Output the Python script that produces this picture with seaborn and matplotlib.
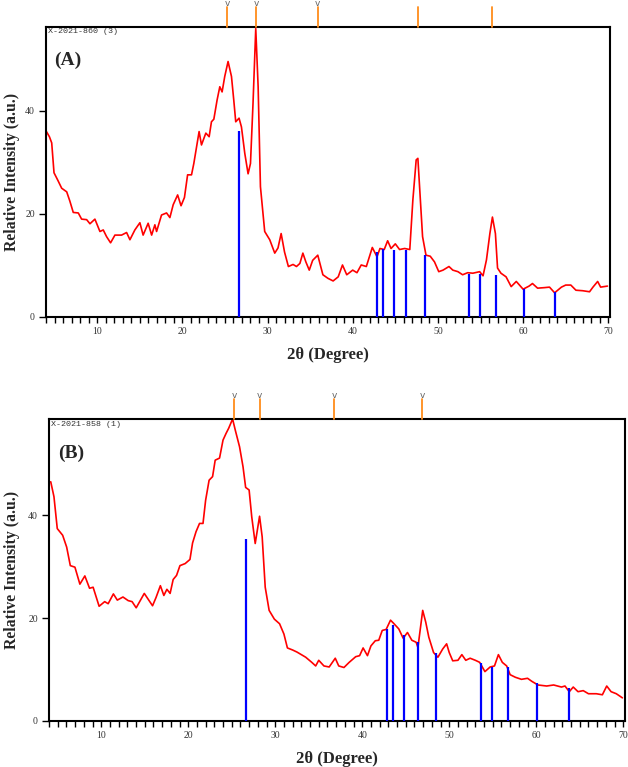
import numpy as np
import pandas as pd
import matplotlib
matplotlib.use("Agg")
import matplotlib.pyplot as plt
import matplotlib.transforms as mtransforms
from matplotlib.ticker import MultipleLocator
import seaborn as sns

# ---------------- data ----------------
theta_a = [4.05, 4.4, 4.67, 4.94, 5.4, 5.84, 6.43, 6.8, 7.2, 7.79, 8.18, 8.77, 9.16, 9.74,
           10.33, 10.72, 11.11, 11.58, 12.09, 12.87, 13.46, 13.85, 14.43, 15.02, 15.4, 15.99,
           16.4, 16.78, 16.98, 17.56, 18.15, 18.54, 18.93, 19.45, 19.85, 20.25, 20.62, 21.08,
           21.35, 21.67, 21.97, 22.25, 22.76, 23.15, 23.42, 23.7, 24.08, 24.4, 24.67, 24.98,
           25.37, 25.77, 26.04, 26.27, 26.66, 26.94, 27.33, 27.72, 28.0, 28.3, 28.62, 28.9,
           29.17, 29.67, 30.26, 30.85, 31.23, 31.6, 32.0, 32.45, 33.0, 33.4, 33.8, 34.15,
           34.5, 34.9, 35.3, 35.9, 36.5, 37.1, 37.7, 38.3, 38.8, 39.3, 40.0, 40.5, 41.0,
           41.6, 42.3, 42.85, 43.2, 43.7, 44.1, 44.5, 45.0, 45.5, 46.1, 46.7, 47.06, 47.45,
           47.65, 47.9, 48.2, 48.6, 49.1, 49.6, 50.1, 50.6, 51.3, 51.75, 52.35, 52.9, 53.5,
           54.1, 54.9, 55.3, 55.7, 56.1, 56.4, 56.75, 57.0, 57.4, 58.0, 58.6, 59.2, 60.0,
           60.7, 61.1, 61.7, 62.5, 63.1, 63.7, 64.5, 65.0, 65.6, 66.2, 67.0, 67.8, 68.2,
           68.75, 69.1, 69.9]
inten_a = [36.0, 35.0, 33.8, 28.0, 26.5, 25.0, 24.3, 22.5, 20.3, 20.2, 19.0, 18.9, 18.1, 19.0,
           16.6, 16.9, 15.6, 14.4, 15.9, 15.9, 16.4, 15.0, 16.9, 18.3, 15.9, 18.2,
           15.9, 17.9, 16.6, 19.8, 20.2, 19.3, 21.8, 23.7, 21.6, 23.2, 27.6, 27.6,
           29.8, 33.0, 36.0, 33.4, 35.7, 35.0, 37.9, 38.4, 42.1, 44.7, 43.7, 46.7,
           49.6, 46.7, 42.1, 37.9, 38.6, 36.9, 31.8, 27.8, 29.8, 41.5, 56.0, 44.7,
           25.3, 16.6, 15.0, 12.4, 13.4, 16.2, 12.6, 9.8, 10.2, 9.8, 10.4, 12.4,
           10.7, 9.1, 11.0, 12.0, 8.2, 7.5, 7.0, 7.8, 10.1, 8.2, 9.1, 8.6, 10.1,
           9.8, 13.5, 11.7, 13.3, 13.1, 14.8, 13.3, 14.2, 13.1, 13.3, 13.1, 22.7, 30.5,
           30.8, 24.0, 15.6, 12.0, 11.8, 10.7, 8.8, 9.1, 9.8, 9.1, 8.8, 8.2, 8.6,
           8.5, 8.8, 8.0, 11.1, 16.2, 19.4, 16.2, 9.5, 8.5, 7.8, 5.9, 6.9, 5.4,
           6.0, 6.5, 5.6, 5.7, 5.8, 4.7, 5.8, 6.2, 6.2, 5.2, 5.1, 4.9, 5.8,
           6.9, 5.8, 6.0]

theta_b = [4.2, 4.57, 4.95, 5.57, 6.03, 6.45, 6.98, 7.55, 8.12, 8.66, 9.07, 9.76, 10.4, 10.8,
           11.4, 11.85, 12.5, 13.1, 13.55, 14.02, 14.95, 15.9, 16.3, 16.8, 17.2, 17.55, 17.92,
           18.27, 18.66, 19.05, 19.65, 20.2, 20.5, 20.9, 21.3, 21.7, 22.0, 22.4, 22.8, 23.1,
           23.6, 24.0, 24.35, 24.65, 25.1, 25.4, 25.9, 26.3, 26.6, 27.0, 27.3, 27.7, 28.0,
           28.2, 28.5, 28.85, 29.3, 29.9, 30.5, 31.0, 31.4, 32.0, 32.5, 33.5, 34.2, 34.65,
           35.0, 35.6, 36.2, 36.9, 37.3, 37.9, 38.5, 39.25, 39.7, 40.1, 40.6, 41.0, 41.5,
           41.9, 42.3, 42.75, 43.25, 43.6, 44.2, 44.7, 45.2, 45.7, 46.2, 46.4, 46.7, 46.95,
           47.3, 47.65, 48.2, 48.7, 49.25, 49.7, 50.0, 50.4, 51.0, 51.45, 51.9, 52.4, 53.0,
           53.5, 54.1, 54.7, 55.2, 55.65, 56.1, 56.6, 57.0, 57.6, 58.3, 59.0, 59.5, 60.2,
           61.2, 62.0, 62.9, 63.3, 63.8, 64.25, 64.8, 65.4, 66.0, 66.9, 67.6, 68.1, 68.6,
           69.2, 69.9]
inten_b = [46.5, 43.6, 37.4, 36.1, 33.8, 30.2, 29.9, 26.6, 28.2, 25.8, 26.0, 22.3, 23.2, 22.8,
           24.7, 23.5, 24.1, 23.4, 23.2, 22.0, 24.8, 22.4, 24.0, 26.3, 24.4, 25.6, 24.8,
           27.5, 28.3, 30.2, 30.6, 31.4, 34.6, 36.8, 38.4, 38.4, 42.9, 46.8, 47.5, 50.7,
           51.1, 54.6, 55.9, 56.9, 58.7, 56.6, 53.3, 49.4, 45.4, 44.9, 39.7, 34.5, 37.7,
           39.8, 35.8, 26.0, 21.5, 19.8, 18.9, 16.9, 14.2, 13.8, 13.4, 12.4, 11.4, 10.7,
           11.8, 10.7, 10.5, 12.2, 10.7, 10.4, 11.4, 12.5, 12.7, 14.2, 12.7, 14.6, 15.6,
           15.7, 17.6, 17.8, 19.6, 19.0, 17.9, 16.1, 17.2, 15.7, 15.3, 14.3, 18.2, 21.5,
           19.2, 16.3, 13.3, 12.4, 14.0, 15.0, 13.3, 11.7, 11.8, 12.9, 11.8, 12.2, 11.8,
           11.4, 9.6, 10.5, 10.7, 12.9, 11.4, 10.7, 9.0, 8.5, 8.1, 8.3, 7.7, 7.0,
           6.8, 7.0, 6.6, 6.8, 5.7, 6.6, 5.7, 5.9, 5.3, 5.3, 5.1, 6.8, 5.7,
           5.3, 4.5]

# reference stick pattern (blue)
stick_pos_a = [26.6, 42.8, 43.5, 44.8, 46.3, 48.5, 53.7, 54.9, 56.8, 60.1, 63.8]
stick_h_a = [36.1, 12.7, 13.2, 13.0, 13.0, 12.0, 8.3, 8.3, 8.2, 5.5, 4.9]
stick_pos_b = [26.6, 42.8, 43.5, 44.8, 46.4, 48.5, 53.7, 54.9, 56.8, 60.1, 63.8]
stick_h_b = [35.3, 17.8, 18.7, 16.7, 15.4, 13.2, 11.2, 10.4, 10.4, 7.3, 6.4]

# peak markers above the frame (orange); flag = has "v" label
mark_pos_a = [25.3, 28.7, 35.9, 47.7, 56.4]
mark_v_a = [True, True, True, False, False]
mark_pos_b = [25.3, 28.2, 36.8, 46.9]
mark_v_b = [True, True, True, True]

panel_letters = ["(A)", "(B)"]
sample_ids = ["X-2021-860 (3)", "X-2021-858 (1)"]
ytop = [56.3, 58.7]
xlabel = "2θ (Degree)"
ylabel = "Relative Intensity (a.u.)"

# ---------------- figure ----------------
sns.set_style("white")
plt.rcParams['font.family'] = ['Liberation Serif', 'DejaVu Serif']

fig = plt.figure(figsize=(6.28, 7.67), dpi=100)
ax_a = fig.add_axes([46/628, 1-317/767, (610-46)/628, (317-27)/767])
ax_b = fig.add_axes([49/628, 1-721/767, (625-49)/628, (721-419)/767])

panels = [
    (ax_a, theta_a, inten_a, stick_pos_a, stick_h_a, mark_pos_a, mark_v_a, 20/290, (12-46)/564),
    (ax_b, theta_b, inten_b, stick_pos_b, stick_h_b, mark_pos_b, mark_v_b, 20/302, (12-49)/576),
]

for i, (ax, tx, ty, sp, sh, mp, mv, mlen, ylx) in enumerate(panels):
    df = pd.DataFrame({"theta": tx, "I": ty})
    sns.lineplot(data=df, x="theta", y="I", ax=ax, color="#ff0000", lw=1.2,
                 estimator=None, sort=False)
    ax.vlines(sp, 0, sh, color="#0000ff", lw=1.6, zorder=3)

    trans = mtransforms.blended_transform_factory(ax.transData, ax.transAxes)
    for p, hv in zip(mp, mv):
        ax.plot([p, p], [1.0, 1.0 + mlen], color="#ff8c1a", lw=1.3,
                transform=trans, clip_on=False, zorder=5)
        if hv:
            ax.text(p, 1.0 + mlen + 0.012, "v", transform=trans, ha="center", va="center",
                    fontsize=6.5, color="#666666", family="DejaVu Sans")

    ax.set_xlim(4, 70.2)
    ax.set_ylim(0, ytop[i])
    ax.xaxis.set_major_locator(MultipleLocator(10))
    ax.xaxis.set_minor_locator(MultipleLocator(1))
    ax.set_yticks([0, 20, 40])
    ax.tick_params(axis="x", which="both", direction="out", length=4, width=1,
                   labelsize=7, colors="black", labelcolor="#333333", pad=3, bottom=True)
    ax.tick_params(axis="y", which="both", direction="out", length=5, width=1,
                   labelsize=7, colors="black", labelcolor="#333333", pad=3, left=True)
    for s in ax.spines.values():
        s.set_visible(True)
        s.set_color("black")
        s.set_linewidth(1.5)

    ax.set_xlabel(xlabel, fontsize=12, fontweight="bold", labelpad=8)
    ax.set_ylabel(ylabel, fontsize=11.3, fontweight="bold")
    ax.yaxis.set_label_coords(ylx, 0.5)
    ax.yaxis.label.set_va("center")

    ax.text(0.004, 0.995, sample_ids[i], transform=ax.transAxes, ha="left", va="top",
            fontsize=6, color="#333333", family="Liberation Mono")
    ax.text(0.015, 0.885, panel_letters[i], transform=ax.transAxes, ha="left", va="center",
            fontsize=14, fontweight="bold")

fig.savefig("out.png", dpi=100)
